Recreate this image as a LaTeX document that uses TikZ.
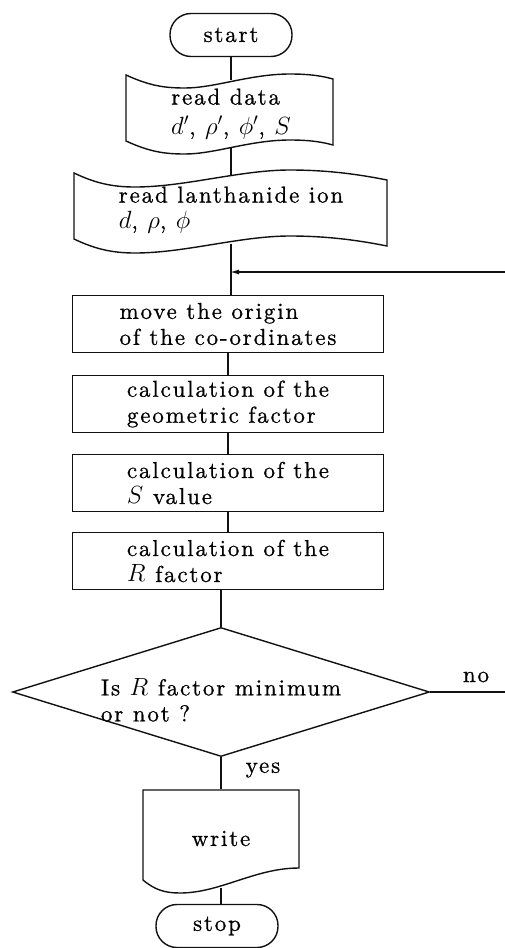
\documentclass[tikz,border=0pt]{standalone}
\usepackage{fontspec}
\setmainfont{lmroman10-regular}[Extension=.otf, LetterSpace=8, FakeBold=0.8,
  ItalicFont=lmroman10-italic, BoldFont=lmroman10-bold]
\usepackage{tikz}
\usetikzlibrary{positioning, arrows.meta, shapes.geometric}
\definecolor{ink}{HTML}{111111}

\begin{document}
\begin{tikzpicture}[x=1pt, y=-1pt,
  font=\fontsize{23}{26}\selectfont, line width=1.4pt,
  term/.style={draw=ink, rounded corners=21pt, minimum width=122pt, minimum height=43pt, inner sep=0pt},
  iobox/.style={align=left, inner sep=0pt},
  proc/.style={draw=ink, minimum width=311pt, minimum height=57pt, align=left, inner sep=0pt},
  decision/.style={draw=ink, diamond, minimum width=417pt, minimum height=129pt, inner sep=0pt},
  line/.style={draw=ink},
  arr/.style={draw=ink, -{Latex[length=9pt, width=5pt]}}]
  \useasboundingbox (0,0) rectangle (504,948);
  % terminals and input / output
  \node[term] (start) at (231,35) {start};
  \node[iobox, minimum width=207pt, minimum height=66pt] (rd) at (231,114) {read data\\[4pt]$d'$, $\rho'$, $\phi'$, $S$};
  \draw[line] (126,75) .. controls (150,86) and (165,88) .. (185,88)
    .. controls (215,88) and (250,74) .. (290,74) .. controls (310,74) and (322,76) .. (333,79)
    -- (333,145) .. controls (322,142) and (310,140) .. (290,140)
    .. controls (250,140) and (215,154) .. (185,154) .. controls (165,154) and (150,152) .. (126,141) -- cycle;
  \node[iobox, minimum width=313pt, minimum height=66pt] (ion) at (231,210) {read lanthanide ion\\$d$, $\rho$, $\phi$};
  \draw[line] (74,173) .. controls (95,183) and (112,187) .. (135,187)
    .. controls (185,187) and (240,170) .. (290,170) .. controls (330,170) and (362,175) .. (387,180)
    -- (387,246) .. controls (362,241) and (330,236) .. (290,236)
    .. controls (240,236) and (185,253) .. (135,253) .. controls (112,253) and (95,249) .. (74,239) -- cycle;
  % processing
  \node[proc] (mv) at (228,324) {move the origin\\of the co-ordinates};
  \node[proc] (geo) at (228,404) {calculation of the\\geometric factor};
  \node[proc] (sv) at (228,483) {calculation of the\\$S$ value};
  \node[proc] (rf) at (228,561) {calculation of the\\$R$ factor};
  \node[decision] (dec) at (221,692) {};
  \node[align=left] (decq) at (221,700) {Is $R$ factor minimum\\or not ?};
  \node[iobox, minimum width=156pt, minimum height=97pt] (wr) at (221,838.5) {write};
  \draw[line] (143,790) -- (299,790) -- (299,868) .. controls (255,868) and (220,893) .. (180,893)
    .. controls (165,893) and (155,890) .. (143,880) -- cycle;
  \node[term] (stop) at (217,926) {stop};
  \node (yes) at (263,770) {yes};
  \node (no) at (476,677) {no};
  \coordinate (merge) at (230,272);
  % connectors
  \draw[line] (start) -- (rd); \draw[line] (rd) -- (ion);
  \draw[line] (ion.south) -- (ion.south |- mv.north);
  \draw[line] (mv) -- (geo); \draw[line] (geo) -- (sv); \draw[line] (sv) -- (rf);
  \draw[line] (rf.south -| dec.north) -- (dec.north);
  \draw[line] (dec.south) -- (dec.south |- wr.north);
  \draw[line] (wr.south) -- (wr.south |- stop.north);
  \draw[arr] (dec.east) -- ++(90,0) |- (merge);
\end{tikzpicture}
\end{document}
